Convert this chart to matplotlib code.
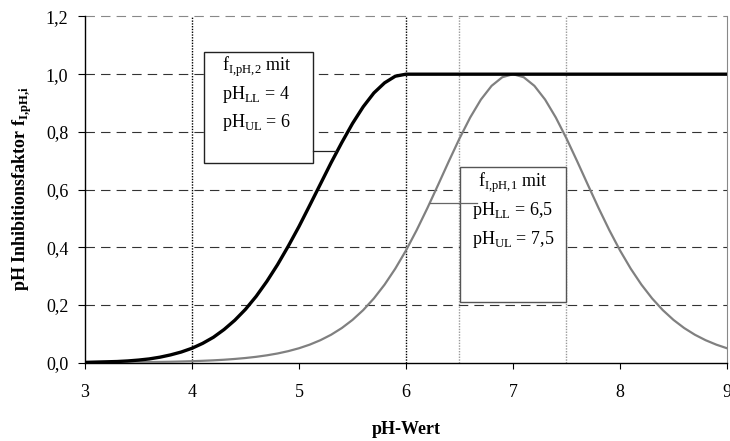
import numpy as np
import matplotlib
matplotlib.use('Agg')
import matplotlib.pyplot as plt
from matplotlib.patches import Rectangle

plt.rcParams['font.family'] = ['Liberation Serif', 'DejaVu Serif']
plt.rcParams['mathtext.fontset'] = 'custom'
plt.rcParams['mathtext.rm'] = 'Liberation Serif'
plt.rcParams['mathtext.bf'] = 'Liberation Serif:bold'

# pH-Werte (Schrittweite 0,1)
ph = np.linspace(3, 9, 61)

# f_I,pH,2 (pH_LL = 4, pH_UL = 6)
f_ph2 = [0.001, 0.002, 0.003, 0.004, 0.006, 0.009, 0.013, 0.019, 0.027, 0.037,
         0.050, 0.067, 0.088, 0.115, 0.147, 0.185, 0.230, 0.282, 0.340, 0.404,
         0.472, 0.545, 0.619, 0.693, 0.763, 0.829, 0.887, 0.935, 0.970, 0.993,
         1.0] + [1.0] * 30

# f_I,pH,1 (pH_LL = 6,5, pH_UL = 7,5)
f_ph1 = [0.0005, 0.0007, 0.0008, 0.0010, 0.0013, 0.0016, 0.0021, 0.0026, 0.0032, 0.0041,
         0.0051, 0.0065, 0.0081, 0.0102, 0.0129, 0.0162, 0.0203, 0.0255, 0.0319, 0.0400,
         0.0500, 0.0625, 0.0779, 0.0968, 0.1200, 0.1482, 0.1822, 0.2228, 0.2706, 0.3260,
         0.3891, 0.4595, 0.5359, 0.6163, 0.6979, 0.7771, 0.8499, 0.9120, 0.9596, 0.9895,
         1.0,
         0.9895, 0.9596, 0.9120, 0.8499, 0.7771, 0.6979, 0.6163, 0.5359, 0.4595, 0.3891,
         0.3260, 0.2706, 0.2228, 0.1822, 0.1482, 0.1200, 0.0968, 0.0779, 0.0625, 0.0500]

x_ticks = [3, 4, 5, 6, 7, 8, 9]
y_ticks = [0.0, 0.2, 0.4, 0.6, 0.8, 1.0, 1.2]
y_labels = ['0,0', '0,2', '0,4', '0,6', '0,8', '1,0', '1,2']

fig = plt.figure(figsize=(7.3, 4.41), dpi=100)
ax = fig.add_axes([0.1164, 0.1776, 0.8795, 0.7850])
ax.set_xlim(3, 9)
ax.set_ylim(0, 1.2)

# Gitterlinien
for y in y_ticks[1:-1]:
    ax.axhline(y, color='#333333', lw=0.8, dashes=(8.5, 5.5), zorder=1)
ax.axhline(1.2, color='#888888', lw=0.8, dashes=(8.5, 5.5), zorder=1, clip_on=False)
for x in [4, 6]:
    ax.axvline(x, color='black', lw=1.0, linestyle=(0, (1, 1)), zorder=1)
for x in [6.5, 7.5]:
    ax.axvline(x, color='#999999', lw=1.0, linestyle=(0, (1, 1)), zorder=1)

ax.plot(ph, f_ph1, color='#808080', lw=1.6, zorder=3, solid_joinstyle='round')
ax.plot(ph, f_ph2, color='black', lw=2.4, zorder=4, solid_joinstyle='round')

# Beschriftungskästen
ax.add_patch(Rectangle((4.112, 0.693), 1.019, 0.384, facecolor='white',
                       edgecolor='#222222', lw=1.0, zorder=5))
ax.plot([5.131, 5.346], [0.734, 0.734], color='#222222', lw=0.9, zorder=5)
ax.text(4.6, 1.011, r'f$_{\mathregular{I{,}pH{,}2}}$ mit', ha='center', va='baseline', fontsize=13, zorder=6)
ax.text(4.6, 0.914, r'pH$_{\mathregular{LL}}$ = 4', ha='center', va='baseline', fontsize=13, zorder=6)
ax.text(4.6, 0.817, r'pH$_{\mathregular{UL}}$ = 6', ha='center', va='baseline', fontsize=13, zorder=6)

ax.add_patch(Rectangle((6.505, 0.210), 0.990, 0.468, facecolor='white',
                       edgecolor='#555555', lw=1.0, zorder=5))
ax.plot([6.224, 6.664], [0.553, 0.553], color='#666666', lw=0.9, zorder=6)
ax.text(7.0, 0.609, r'f$_{\mathregular{I{,}pH{,}1}}$ mit', ha='center', va='baseline', fontsize=13, zorder=7)
ax.text(7.0, 0.511, r'pH$_{\mathregular{LL}}$ = 6,5', ha='center', va='baseline', fontsize=13, zorder=7)
ax.text(7.0, 0.411, r'pH$_{\mathregular{UL}}$ = 7,5', ha='center', va='baseline', fontsize=13, zorder=7)

# Achsen
ax.spines['top'].set_visible(False)
ax.spines['right'].set_color('#888888')
ax.spines['right'].set_linewidth(0.8)
ax.spines['left'].set_linewidth(1.0)
ax.spines['bottom'].set_linewidth(1.0)
ax.set_xticks(x_ticks)
ax.set_xticklabels([str(t) for t in x_ticks])
ax.set_yticks(y_ticks)
ax.set_yticklabels(y_labels)
ax.tick_params(axis='x', direction='out', length=4.5, pad=11, labelsize=13)
ax.tick_params(axis='y', direction='out', length=5, pad=7, labelsize=13)

fig.text(406 / 730, 1 - 430 / 441, 'pH-Wert', ha='center', va='center',
         fontsize=13, fontweight='bold')
fig.text(22 / 730, 1 - 189 / 441, r'pH Inhibitionsfaktor f$_{\mathbf{I{,}pH{,}i}}$',
         ha='center', va='center', rotation=90, fontsize=13, fontweight='bold')

fig.savefig('out.png', dpi=100)
